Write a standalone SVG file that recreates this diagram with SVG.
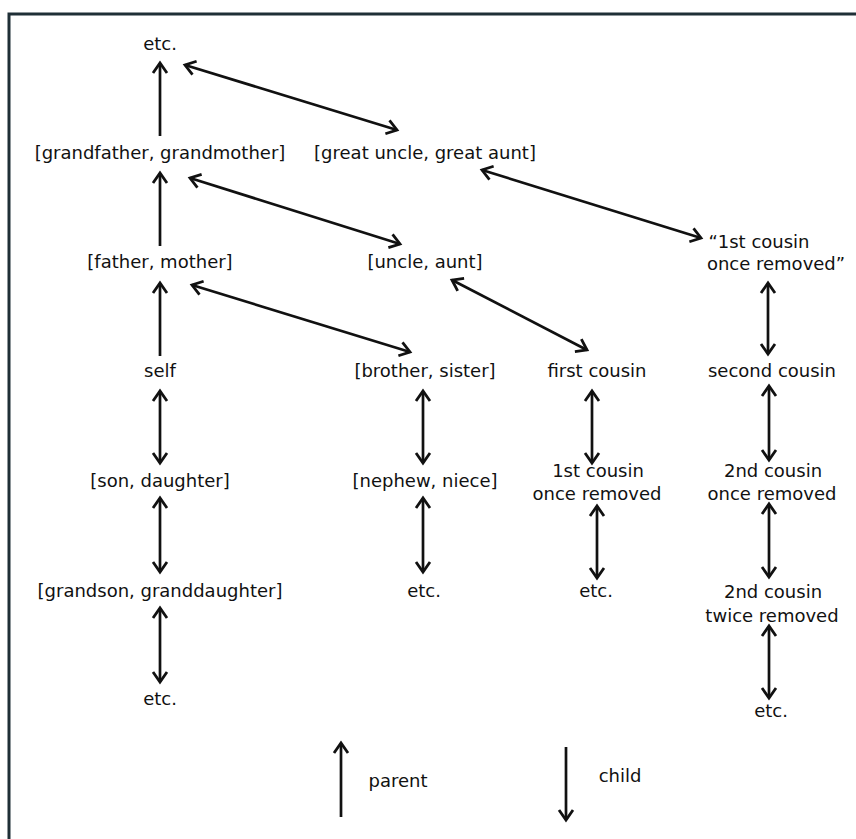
<svg xmlns="http://www.w3.org/2000/svg" width="856" height="839" viewBox="0 0 856 839">
<style>
text{font-family:"DejaVu Sans","Liberation Sans",sans-serif;font-size:18px;fill:#111;text-anchor:middle}
.c line{stroke:#111;stroke-width:2.7;fill:none}
.b{marker-start:url(#ah);marker-end:url(#ah)}
.u{marker-end:url(#ah)}
</style>
<defs>
<marker id="ah" markerUnits="userSpaceOnUse" markerWidth="26" markerHeight="26" viewBox="-15 -13 18 26" refX="0" refY="0" orient="auto-start-reverse">
<path d="M-10,-7 L0,0 L-10,7" fill="none" stroke="#111" stroke-width="2.8"/>
</marker>
</defs>
<rect x="9" y="14" width="900" height="900" fill="#fff" stroke="#1f2f36" stroke-width="3"/>
<g class="c" id="connectors">
<line class="u" x1="160" y1="136" x2="160" y2="63"/>
<line class="u" x1="160" y1="246" x2="160" y2="173"/>
<line class="u" x1="160" y1="356" x2="160" y2="283"/>
<line class="b" x1="160" y1="391" x2="160" y2="463"/>
<line class="b" x1="160" y1="498" x2="160" y2="572"/>
<line class="b" x1="160" y1="608" x2="160" y2="682"/>
<line class="b" x1="185" y1="65" x2="397" y2="130"/>
<line class="b" x1="190" y1="178" x2="400" y2="244"/>
<line class="b" x1="192" y1="285" x2="410" y2="352"/>
<line class="b" x1="482" y1="170" x2="701" y2="238"/>
<line class="b" x1="452" y1="280" x2="587" y2="350"/>
<line class="b" x1="423" y1="391" x2="423" y2="463"/>
<line class="b" x1="423" y1="498" x2="423" y2="572"/>
<line class="b" x1="592" y1="391" x2="592" y2="463"/>
<line class="b" x1="597" y1="506" x2="597" y2="578"/>
<line class="b" x1="768" y1="283" x2="768" y2="354"/>
<line class="b" x1="769" y1="386" x2="769" y2="460"/>
<line class="b" x1="769" y1="504" x2="769" y2="577"/>
<line class="b" x1="769" y1="626" x2="769" y2="698"/>
<line class="u" x1="341" y1="817" x2="341" y2="743"/>
<line class="u" x1="566" y1="747" x2="566" y2="820"/>
</g>
<g id="etc-top"><text x="160" y="50">etc.</text></g>
<g id="grandparents"><text x="160" y="159">[grandfather, grandmother]</text></g>
<g id="great-uncle-aunt"><text x="425" y="159">[great uncle, great aunt]</text></g>
<g id="parents"><text x="160" y="268">[father, mother]</text></g>
<g id="uncle-aunt"><text x="425" y="268">[uncle, aunt]</text></g>
<g id="cousin-once-removed-up"><text x="759" y="248">“1st cousin</text><text x="776" y="270">once removed”</text></g>
<g id="self"><text x="160" y="377">self</text></g>
<g id="siblings"><text x="425" y="377">[brother, sister]</text></g>
<g id="first-cousin"><text x="597" y="377">first cousin</text></g>
<g id="second-cousin"><text x="772" y="377">second cousin</text></g>
<g id="children"><text x="160" y="487">[son, daughter]</text></g>
<g id="nephew-niece"><text x="425" y="487">[nephew, niece]</text></g>
<g id="first-cousin-once-removed"><text x="598" y="477">1st cousin</text><text x="597" y="500">once removed</text></g>
<g id="second-cousin-once-removed"><text x="773" y="477">2nd cousin</text><text x="772" y="500">once removed</text></g>
<g id="grandchildren"><text x="160" y="597">[grandson, granddaughter]</text></g>
<g id="etc-col2"><text x="424" y="597">etc.</text></g>
<g id="etc-col3"><text x="596" y="597">etc.</text></g>
<g id="second-cousin-twice-removed"><text x="773" y="598">2nd cousin</text><text x="772" y="622">twice removed</text></g>
<g id="etc-col1-bottom"><text x="160" y="705">etc.</text></g>
<g id="etc-col4-bottom"><text x="771" y="717">etc.</text></g>
<g id="legend-parent"><text x="398" y="787">parent</text></g>
<g id="legend-child"><text x="620" y="782">child</text></g>
</svg>
